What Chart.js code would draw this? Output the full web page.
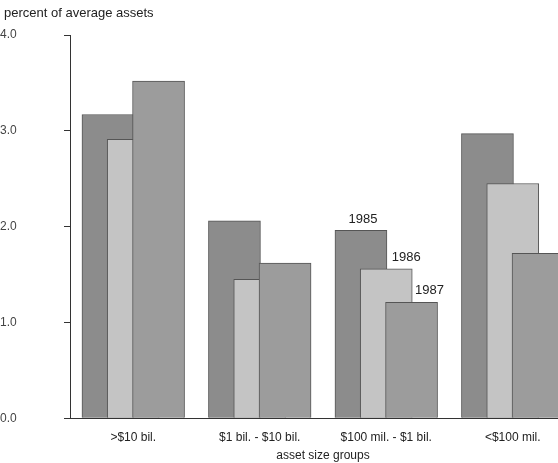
<!DOCTYPE html>
<html lang="en">
<head>
<meta charset="UTF-8">
<title>Chart</title>
<script src="https://cdn.jsdelivr.net/npm/chart.js"></script>
<style>
  body { margin:0; overflow:hidden; background:#fff; }
</style>
</head>
<body>
<canvas id="myChart" width="576" height="463"></canvas>
<script>
const groups = ['>$10 bil.', '$1 bil. - $10 bil.', '$100 mil. - $1 bil.', '<$100 mil.'];
const years = ['1985', '1986', '1987'];
const v1985 = [3.17, 2.06, 1.96, 2.97];
const v1986 = [2.91, 1.45, 1.56, 2.45];
const v1987 = [3.52, 1.62, 1.21, 1.72];
const yTicks = [0, 1, 2, 3, 4];
const colors = ['#8c8c8c', '#c4c4c4', '#9c9c9c'];
const shift = [-0.2, 0, 0.2];
const labelDx = [2, 20, 18];

const yearLabels = {
  id: 'yearLabels',
  afterDatasetsDraw(chart) {
    const ctx = chart.ctx;
    ctx.save();
    ctx.fillStyle = '#222';
    ctx.font = '13px Arial, "Liberation Sans", sans-serif';
    ctx.textAlign = 'center';
    ctx.textBaseline = 'bottom';
    years.forEach((y, i) => {
      const bar = chart.getDatasetMeta(i).data[2];
      ctx.fillText(y, bar.x + labelDx[i], bar.y - 5);
    });
    ctx.textAlign = 'left';
    ctx.fillText('percent of average assets', 4, 20);
    ctx.restore();
  }
};

new Chart(document.getElementById('myChart'), {
  type: 'bar',
  data: {
    datasets: [v1985, v1986, v1987].map((d, i) => ({
      label: years[i],
      data: d.map((v, j) => ({ x: j + shift[i], y: v })),
      backgroundColor: colors[i],
      borderColor: '#555',
      borderWidth: 1,
      barThickness: 52,
      grouped: false,
      order: 3 - i
    }))
  },
  options: {
    responsive: false,
    animation: false,
    layout: { padding: { top: 35, right: 0, bottom: 0, left: 0 } },
    plugins: { legend: { display: false }, tooltip: { enabled: false } },
    scales: {
      x: {
        type: 'linear',
        offset: false,
        min: -0.5, max: 3.5,
        afterBuildTicks: s => { s.ticks = groups.map((g, j) => ({ value: j })); },
        grid: { display: false, offset: false },
        border: { color: '#333' },
        ticks: { color: '#222', font: { size: 12, family: 'Arial' }, padding: 4, callback: v => groups[v] },
        title: { display: true, text: 'asset size groups', color: '#222', font: { size: 12, family: 'Arial' }, padding: 0 }
      },
      y: {
        min: 0, max: 4,
        afterBuildTicks: s => { s.ticks = yTicks.map(v => ({ value: v })); },
        afterFit: s => { s.width = 70; },
        grid: { drawOnChartArea: false, tickLength: 6, color: '#333' },
        border: { color: '#333' },
        ticks: { color: '#444', font: { size: 12, family: 'Arial' }, crossAlign: 'far', callback: v => v.toFixed(1) }
      }
    }
  },
  plugins: [yearLabels]
});
</script>
</body>
</html>
